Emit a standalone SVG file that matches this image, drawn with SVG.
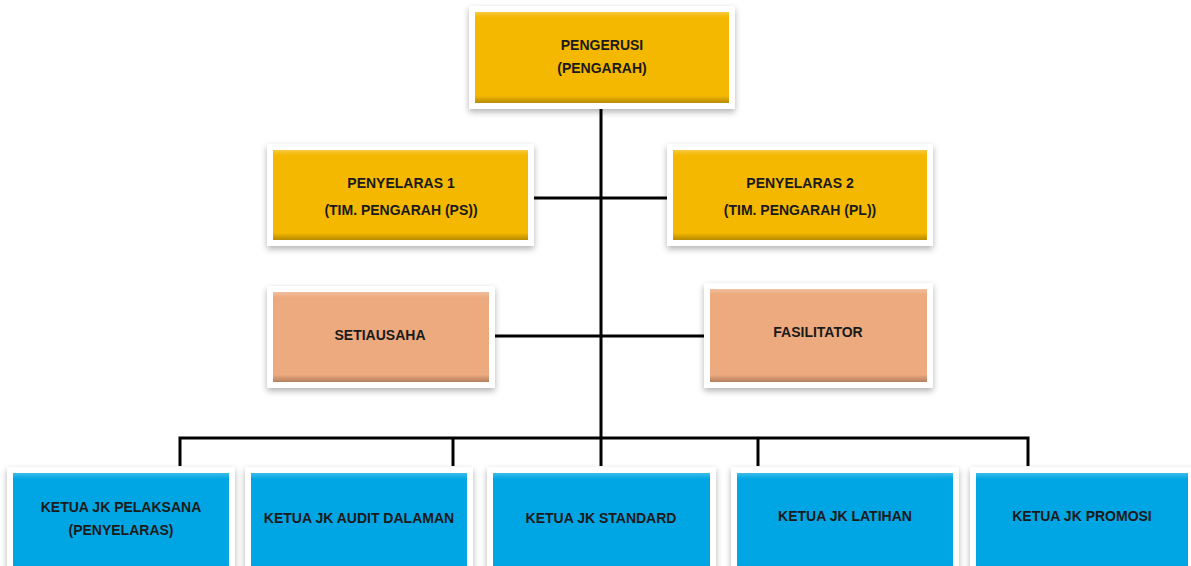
<svg xmlns="http://www.w3.org/2000/svg" width="1191" height="566" viewBox="0 0 1191 566">
<defs>
<filter id="sh" x="-10%" y="-20%" width="120%" height="150%">
<feDropShadow dx="0" dy="3" stdDeviation="3" flood-color="#000" flood-opacity="0.3"/>
</filter>
<linearGradient id="bev" x1="0" y1="0" x2="0" y2="1">
<stop offset="0" stop-color="#fff" stop-opacity="0.25"/>
<stop offset="0.06" stop-color="#fff" stop-opacity="0"/>
<stop offset="0.92" stop-color="#000" stop-opacity="0"/>
<stop offset="1" stop-color="#000" stop-opacity="0.25"/>
</linearGradient>
</defs>
<style>
.frame{fill:#fff;filter:url(#sh)}
.gold{fill:#F4B800}
.salmon{fill:#EDAA7E}
.blue{fill:#00A6E3}
.bev{fill:url(#bev)}
.t{font-family:"Liberation Sans",Arial,sans-serif;font-weight:bold;font-size:14px;fill:#1a1a1a;text-anchor:middle;dominant-baseline:central}
.c{fill:none;stroke:#000;stroke-width:3}
</style>
<rect width="1191" height="566" fill="#fff"/>
<g id="connectors">
<line class="c" x1="601" y1="106" x2="601" y2="438"/>
<line class="c" x1="527" y1="198" x2="673" y2="198"/>
<line class="c" x1="489" y1="336" x2="710" y2="336"/>
<polyline class="c" points="180,466 180,438 1028,438 1028,466"/>
<line class="c" x1="453" y1="438" x2="453" y2="466"/>
<line class="c" x1="601" y1="438" x2="601" y2="466"/>
<line class="c" x1="758" y1="438" x2="758" y2="466"/>
</g>
<g id="pengerusi">
<rect class="frame" x="469" y="6" width="266" height="103"/>
<rect class="gold" x="475" y="12" width="254" height="91"/>
<rect class="bev" x="475" y="12" width="254" height="91"/>
<text class="t" x="602" y="45">PENGERUSI</text>
<text class="t" x="602" y="68">(PENGARAH)</text>
</g>
<g id="penyelaras1">
<rect class="frame" x="267" y="144" width="267" height="102"/>
<rect class="gold" x="273" y="150" width="255" height="90"/>
<rect class="bev" x="273" y="150" width="255" height="90"/>
<text class="t" x="401" y="183">PENYELARAS 1</text>
<text class="t" x="401" y="210">(TIM. PENGARAH (PS))</text>
</g>
<g id="penyelaras2">
<rect class="frame" x="667" y="144" width="266" height="102"/>
<rect class="gold" x="673" y="150" width="254" height="90"/>
<rect class="bev" x="673" y="150" width="254" height="90"/>
<text class="t" x="800" y="183">PENYELARAS 2</text>
<text class="t" x="800" y="210">(TIM. PENGARAH (PL))</text>
</g>
<g id="setiausaha">
<rect class="frame" x="267" y="286" width="228" height="102"/>
<rect class="salmon" x="273" y="292" width="216" height="90"/>
<rect class="bev" x="273" y="292" width="216" height="90"/>
<text class="t" x="380" y="335">SETIAUSAHA</text>
</g>
<g id="fasilitator">
<rect class="frame" x="704" y="283" width="229" height="105"/>
<rect class="salmon" x="710" y="289" width="217" height="93"/>
<rect class="bev" x="710" y="289" width="217" height="93"/>
<text class="t" x="818" y="332">FASILITATOR</text>
</g>
<g id="ketua-pelaksana">
<rect class="frame" x="7" y="467" width="228" height="110"/>
<rect class="blue" x="13" y="473" width="216" height="100"/>
<rect class="bev" x="13" y="473" width="216" height="100"/>
<text class="t" x="121" y="507">KETUA JK PELAKSANA</text>
<text class="t" x="121" y="530">(PENYELARAS)</text>
</g>
<g id="ketua-audit">
<rect class="frame" x="245" y="467" width="228" height="110"/>
<rect class="blue" x="251" y="473" width="216" height="100"/>
<rect class="bev" x="251" y="473" width="216" height="100"/>
<text class="t" x="359" y="518">KETUA JK AUDIT DALAMAN</text>
</g>
<g id="ketua-standard">
<rect class="frame" x="487" y="467" width="229" height="110"/>
<rect class="blue" x="493" y="473" width="217" height="100"/>
<rect class="bev" x="493" y="473" width="217" height="100"/>
<text class="t" x="601" y="518">KETUA JK STANDARD</text>
</g>
<g id="ketua-latihan">
<rect class="frame" x="731" y="467" width="228" height="110"/>
<rect class="blue" x="737" y="473" width="216" height="100"/>
<rect class="bev" x="737" y="473" width="216" height="100"/>
<text class="t" x="845" y="516">KETUA JK LATIHAN</text>
</g>
<g id="ketua-promosi">
<rect class="frame" x="970" y="467" width="225" height="110"/>
<rect class="blue" x="976" y="473" width="212" height="100"/>
<rect class="bev" x="976" y="473" width="212" height="100"/>
<text class="t" x="1082" y="516">KETUA JK PROMOSI</text>
</g>
</svg>
